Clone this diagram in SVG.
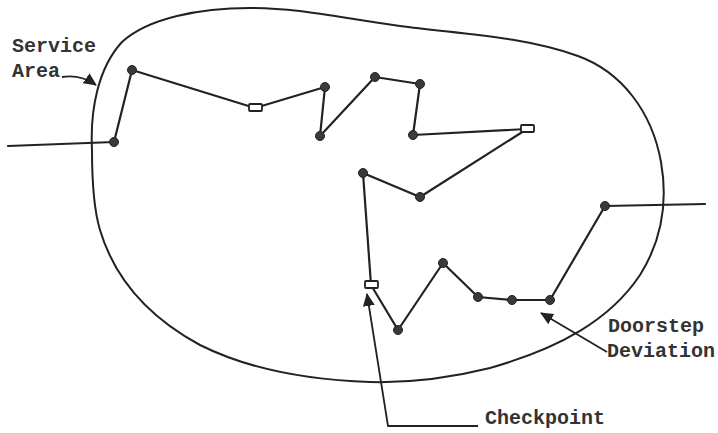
<svg xmlns="http://www.w3.org/2000/svg" width="718" height="433" viewBox="0 0 718 433">
<style>
.ln{fill:none;stroke:#222;stroke-width:2.2;stroke-linejoin:round;stroke-linecap:round}
.ld{fill:none;stroke:#222;stroke-width:1.8;stroke-linejoin:round}
.bd{fill:none;stroke:#222;stroke-width:2}
.nd{fill:#3a3a3a;stroke:#222;stroke-width:1}
.cp{fill:#fff;stroke:#222;stroke-width:1.8}
.tx{font-family:"Liberation Mono","Courier New",monospace;font-size:20px;font-weight:bold;fill:#333}
</style>
<defs>
<marker id="ah" markerWidth="13" markerHeight="12" refX="12" refY="6" orient="auto" markerUnits="userSpaceOnUse">
<path d="M0,0 L13,6 L0,12 Z" fill="#222"/>
</marker>
</defs>
<rect width="718" height="433" fill="#fff"/>
<g id="service-area">
<path class="bd" d="M92,150 C90,110 98,68 122,42 C148,18 200,8 250,8 C300,8 340,18 400,26 C460,34 522,36 578,56 C622,72 652,112 661,162 C668,202 662,240 640,275 C610,320 560,348 490,368 C450,378 410,383 370,382 C310,380 250,370 200,345 C150,318 115,280 100,230 C94,210 92,175 92,150 Z"/>
</g>
<g id="connectors">
<polyline class="ln" points="8,146 114,142 132,70 255,108 325,87 320,136 375,77 420,84 413,135 527,129 420,197 363,173 371,285 398,330 443,263 478,297 512,300 550,300 605,206 705,204"/>
<path class="ld" d="M62,77 Q80,74 96,85" marker-end="url(#ah)"/>
<polyline class="ld" points="478,426 388,426 367,294" marker-end="url(#ah)"/>
<polyline class="ld" points="607,352 541,313" marker-end="url(#ah)"/>
</g>
<g id="stops">
<circle class="nd" cx="114" cy="142" r="4.5"/>
<circle class="nd" cx="132" cy="70" r="4.5"/>
<circle class="nd" cx="325" cy="87" r="4.5"/>
<circle class="nd" cx="320" cy="136" r="4.5"/>
<circle class="nd" cx="375" cy="77" r="4.5"/>
<circle class="nd" cx="420" cy="84" r="4.5"/>
<circle class="nd" cx="413" cy="135" r="4.5"/>
<circle class="nd" cx="420" cy="197" r="4.5"/>
<circle class="nd" cx="363" cy="173" r="4.5"/>
<circle class="nd" cx="398" cy="330" r="4.5"/>
<circle class="nd" cx="443" cy="263" r="4.5"/>
<circle class="nd" cx="478" cy="297" r="4.5"/>
<circle class="nd" cx="512" cy="300" r="4.5"/>
<circle class="nd" cx="550" cy="300" r="4.5"/>
<circle class="nd" cx="605" cy="206" r="4.5"/>
</g>
<g id="checkpoints">
<rect class="cp" x="249" y="104" width="13" height="7" rx="1"/>
<rect class="cp" x="521" y="125" width="13" height="7" rx="1"/>
<rect class="cp" x="365" y="281" width="13" height="7" rx="1"/>
</g>
<g id="labels">
<text class="tx" x="12" y="52">Service</text>
<text class="tx" x="12" y="77">Area</text>
<text class="tx" x="485" y="424">Checkpoint</text>
<text class="tx" x="608" y="332">Doorstep</text>
<text class="tx" x="607" y="357">Deviation</text>
</g>
</svg>
